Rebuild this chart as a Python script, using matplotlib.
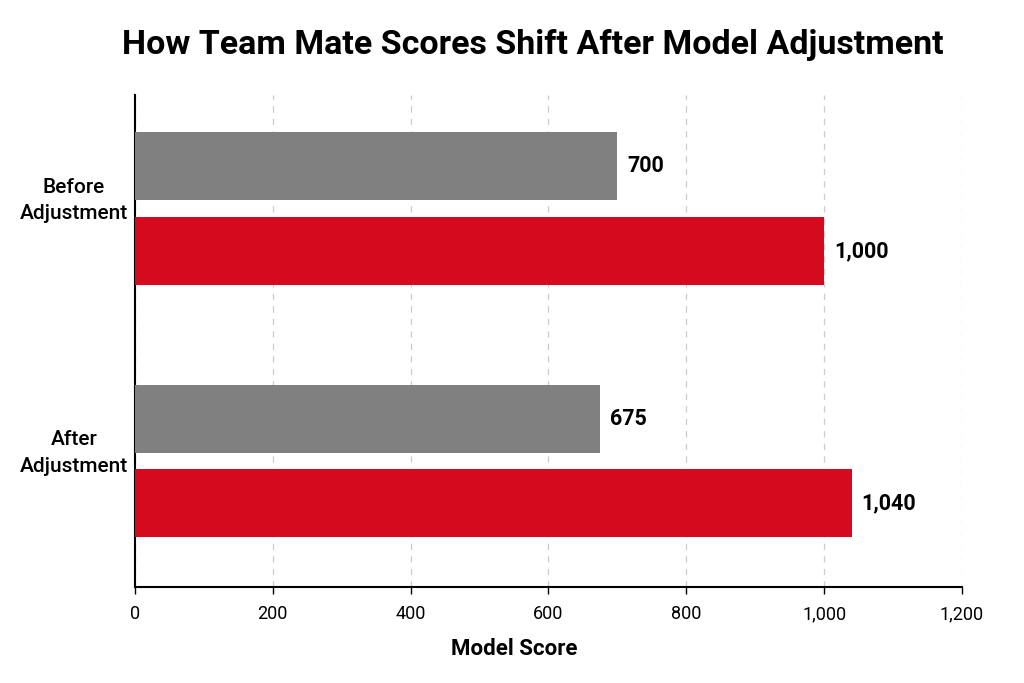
import matplotlib.pyplot as plt
import matplotlib.transforms as mtransforms
import numpy as np

plt.rcParams['font.family'] = ['Roboto', 'DejaVu Sans']

# dati
categories = ["Before\nAdjustment", "After\nAdjustment"]
gray_values = [700, 675]
red_values = [1000, 1040]
xticks = [0, 200, 400, 600, 800, 1000, 1200]

gray_color = "#808080"
red_color = "#D50A1E"

fig = plt.figure(figsize=(10.24, 6.83), dpi=100)
ax = fig.add_axes([0.1318, 0.1406, 0.8076, 0.7203])

y = np.arange(len(categories))
h = 0.27
off = 0.168

ax.barh(y - off, gray_values, height=h, color=gray_color, zorder=3)
ax.barh(y + off, red_values, height=h, color=red_color, zorder=3)

for yi, v in zip(y - off, gray_values):
    ax.text(v + 14, yi, f"{v:,}", va="center", ha="left", fontsize=15.5, fontweight="bold")
for yi, v in zip(y + off, red_values):
    ax.text(v + 14, yi, f"{v:,}", va="center", ha="left", fontsize=15.5, fontweight="bold")

ax.set_xlim(0, 1200)
ax.set_ylim(1.499, -0.45)
ax.set_xticks(xticks)
ax.set_xticklabels([f"{t:,}" for t in xticks], fontsize=13)
ax.set_yticks(y)
ax.set_yticklabels(categories, fontsize=15, fontweight="medium", linespacing=1.5,
                   multialignment="center")
ax.tick_params(axis="y", length=0, pad=5)
ax.tick_params(axis="x", length=5, width=1, pad=8)

# le etichette delle categorie stanno un po' sopra il centro del gruppo
shift = mtransforms.ScaledTranslation(0, 14 / 100, fig.dpi_scale_trans)
for lab in ax.get_yticklabels():
    lab.set_transform(lab.get_transform() + shift)

ax.grid(axis="x", linestyle=(0, (5, 5)), color="#cccccc", linewidth=0.9, zorder=0)
for s in ["top", "right"]:
    ax.spines[s].set_visible(False)
ax.spines["left"].set_linewidth(1.5)
ax.spines["bottom"].set_linewidth(1.5)

ax.set_xlabel("Model Score", fontsize=16, fontweight="bold")
ax.xaxis.set_label_coords((514 - 135) / 827, -0.103)

fig.text(533 / 1024, 1 - 45 / 683, "How Team Mate Scores Shift After Model Adjustment",
         ha="center", va="center", fontsize=24.5, fontweight="bold")

fig.savefig("out.png", dpi=100)
